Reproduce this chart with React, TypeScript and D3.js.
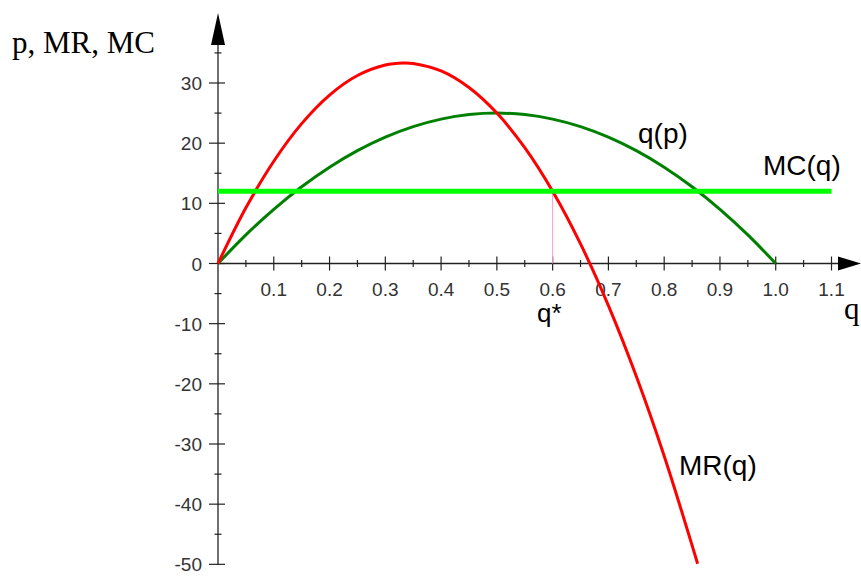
import React from "react";
import * as d3 from "d3";

const qGrid = [0, 0.05, 0.1, 0.15, 0.2, 0.25, 0.3, 0.333, 0.35, 0.4, 0.45, 0.5, 0.55, 0.6, 0.65, 0.7, 0.75, 0.8, 0.86];
const mrValues = [0, 9.25, 17, 23.25, 28, 31.25, 33, 33.33, 33.25, 32, 29.25, 25, 19.25, 12, 3.25, -7, -18.75, -32, -49.9];
const qpGrid = [0, 0.05, 0.1, 0.15, 0.2, 0.25, 0.3, 0.35, 0.4, 0.45, 0.5, 0.55, 0.6, 0.65, 0.7, 0.75, 0.8, 0.85, 0.9, 0.95, 1.0];
const qpValues = [0, 4.75, 9, 12.75, 16, 18.75, 21, 22.75, 24, 24.75, 25, 24.75, 24, 22.75, 21, 18.75, 16, 12.75, 9, 4.75, 0];
const mcValue = 12;
const mcRange = [0, 1.1];
const qStar = 0.6;
const xTickLabels = ["0.1", "0.2", "0.3", "0.4", "0.5", "0.6", "0.7", "0.8", "0.9", "1.0", "1.1"];
const yTickValues = [30, 20, 10, 0, -10, -20, -30, -40, -50];

export default function App() {
  const W = 861, H = 577;
  const x = d3.scaleLinear().domain([0, 1.1]).range([218, 831.5]);
  const y = d3.scaleLinear().domain([0, 30]).range([263.5, 83]);

  const line = d3.line<[number, number]>().x(d => x(d[0])).y(d => y(d[1])).curve(d3.curveCatmullRom);
  const mrPath = line(qGrid.map((q, i) => [q, mrValues[i]]))!;
  const qpPath = line(qpGrid.map((q, i) => [q, qpValues[i]]))!;

  const xMinor = d3.range(1, 23).map(i => i * 0.05).filter((_, i) => i % 2 === 0);
  const xMajor = xTickLabels.map(Number);
  const yMajor = yTickValues;
  const yMinor = d3.range(-45, 40, 10);

  const axisColor = "#222";
  const tickFont = "'Liberation Sans', Arial, sans-serif";

  return (
    <svg width={W} height={H} style={{ position: "absolute", left: 0, top: 0, background: "#fff" }}>
      {/* axes */}
      <line x1={x(0)} x2={840} y1={y(0)} y2={y(0)} stroke={axisColor} strokeWidth={1.3} />
      <line x1={x(0)} x2={x(0)} y1={y(-50)} y2={44} stroke={axisColor} strokeWidth={1.3} />
      <path d={`M838,${y(0) - 7} L861,${y(0)} L838,${y(0) + 7} Z`} fill="#000" />
      <path d={`M${x(0) - 7},45 L${x(0)},13 L${x(0) + 7},45 Z`} fill="#000" />

      {xMajor.map((v, i) => (
        <g key={"xm" + v}>
          <line x1={x(v)} x2={x(v)} y1={y(0) - 7} y2={y(0) + 7} stroke={axisColor} strokeWidth={1.2} />
          <text x={x(v)} y={y(0) + 32} textAnchor="middle" fontFamily={tickFont} fontSize={19} fill="#333">
            {xTickLabels[i]}
          </text>
        </g>
      ))}
      {xMinor.map(v => (
        <line key={"xn" + v} x1={x(v)} x2={x(v)} y1={y(0) - 3.5} y2={y(0) + 3.5} stroke={axisColor} strokeWidth={1.2} />
      ))}
      {yMajor.map(v => (
        <g key={"ym" + v}>
          <line x1={x(0) - 9} x2={x(0) + 7} y1={y(v)} y2={y(v)} stroke={axisColor} strokeWidth={1.2} />
          <text x={202} y={y(v) + 7} textAnchor="end" fontFamily={tickFont} fontSize={19} fill="#333">
            {String(v)}
          </text>
        </g>
      ))}
      {yMinor.map(v => (
        <line key={"yn" + v} x1={x(0) - 3.5} x2={x(0) + 3.5} y1={y(v)} y2={y(v)} stroke={axisColor} strokeWidth={1.2} />
      ))}

      {/* q* drop line */}
      <line x1={x(qStar)} x2={x(qStar)} y1={y(mcValue)} y2={y(0)} stroke="#ff99cc" strokeWidth={1} />

      {/* curves */}
      <path d={qpPath} fill="none" stroke="#008000" strokeWidth={3} />
      <path d={mrPath} fill="none" stroke="#ff0000" strokeWidth={3} />
      <line x1={x(mcRange[0])} x2={x(mcRange[1])} y1={y(mcValue)} y2={y(mcValue)} stroke="#00ff00" strokeWidth={5} />

      {/* labels */}
      <text x={12} y={53} fontFamily="'Liberation Serif', 'Times New Roman', serif" fontSize={31}>p, MR, MC</text>
      <text x={844} y={319} fontFamily="'Liberation Serif', 'Times New Roman', serif" fontSize={31}>q</text>
      <text x={537} y={322} fontFamily="'Liberation Sans', Arial, sans-serif" fontSize={26}>q*</text>
      <text x={638} y={143} fontFamily="'Liberation Sans', Arial, sans-serif" fontSize={28}>q(p)</text>
      <text x={763} y={175} fontFamily="'Liberation Sans', Arial, sans-serif" fontSize={28}>MC(q)</text>
      <text x={679} y={475} fontFamily="'Liberation Sans', Arial, sans-serif" fontSize={28}>MR(q)</text>
    </svg>
  );
}
